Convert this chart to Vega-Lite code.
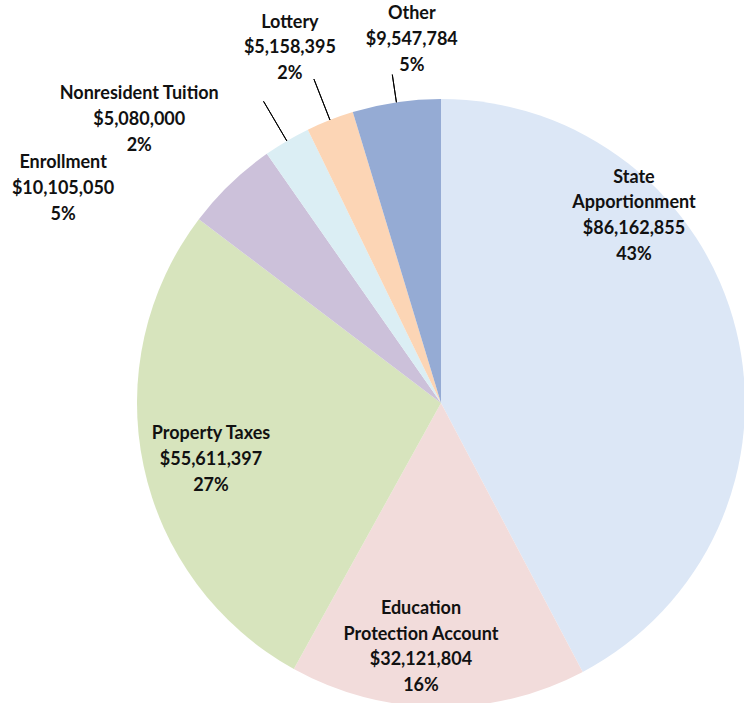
{
  "$schema": "https://vega.github.io/schema/vega-lite/v6.json",
  "width": 606,
  "height": 600,
  "autosize": {"type": "none"},
  "padding": {"left": 138, "top": 103, "right": 0, "bottom": 0},
  "background": "white",
  "view": {"stroke": null},
  "data": {
    "values": [
      {"idx": 1, "label": "State Apportionment", "amount": 86162855, "txt": "State\nApportionment\n$86,162,855\n43%"},
      {"idx": 2, "label": "Education Protection Account", "amount": 32121804, "txt": "Education\nProtection Account\n$32,121,804\n16%"},
      {"idx": 3, "label": "Property Taxes", "amount": 55611397, "txt": "Property Taxes\n$55,611,397\n27%"},
      {"idx": 4, "label": "Enrollment", "amount": 10105050, "txt": "Enrollment\n$10,105,050\n5%"},
      {"idx": 5, "label": "Nonresident Tuition", "amount": 5080000, "txt": "Nonresident Tuition\n$5,080,000\n2%"},
      {"idx": 6, "label": "Lottery", "amount": 5158395, "txt": "Lottery\n$5,158,395\n2%"},
      {"idx": 7, "label": "Other", "amount": 9547784, "txt": "Other\n$9,547,784\n5%"}
    ]
  },
  "encoding": {
    "theta": {"field": "amount", "type": "quantitative", "stack": true},
    "order": {"field": "idx", "type": "quantitative"}
  },
  "layer": [
    {
      "mark": {"type": "arc", "outerRadius": 304, "strokeWidth": 0},
      "encoding": {
        "color": {
          "field": "label",
          "type": "nominal",
          "scale": {
            "domain": ["State Apportionment", "Education Protection Account", "Property Taxes", "Enrollment", "Nonresident Tuition", "Lottery", "Other"],
            "range": ["#dce7f6", "#f2dcdb", "#d7e4bd", "#ccc1da", "#dbeef4", "#fcd5b5", "#95abd4"]
          },
          "legend": null
        }
      }
    },
    {
      "mark": {"type": "arc", "outerRadius": 332, "innerRadius": 304, "padAngle": 1.5, "fillOpacity": 0, "stroke": "#000000", "strokeWidth": 1},
      "encoding": {"strokeOpacity": {"condition": {"test": "datum.label === 'Other'", "value": 1}, "value": 0}}
    },
    {
      "mark": {"type": "arc", "outerRadius": 348, "innerRadius": 304, "padAngle": 1.5, "fillOpacity": 0, "stroke": "#000000", "strokeWidth": 1},
      "encoding": {"strokeOpacity": {"condition": {"test": "datum.label === 'Lottery'", "value": 1}, "value": 0}}
    },
    {
      "mark": {"type": "arc", "outerRadius": 350, "innerRadius": 304, "padAngle": 1.5, "fillOpacity": 0, "stroke": "#000000", "strokeWidth": 1},
      "encoding": {"strokeOpacity": {"condition": {"test": "datum.label === 'Nonresident Tuition'", "value": 1}, "value": 0}}
    },
    {
      "mark": {"type": "text", "radius": 250, "dx": -49.7, "dy": -165.4, "font": "Lato", "fontSize": 18, "fontWeight": "bold", "lineBreak": "\n", "lineHeight": 25.7, "align": "center", "baseline": "middle", "color": "#111111"},
      "encoding": {"text": {"condition": {"test": "datum.label === 'State Apportionment'", "field": "txt", "type": "nominal"}, "value": ""}}
    },
    {
      "mark": {"type": "text", "radius": 250, "dx": -17.5, "dy": -44, "font": "Lato", "fontSize": 18, "fontWeight": "bold", "lineBreak": "\n", "lineHeight": 25.7, "align": "center", "baseline": "middle", "color": "#111111"},
      "encoding": {"text": {"condition": {"test": "datum.label === 'Education Protection Account'", "field": "txt", "type": "nominal"}, "value": ""}}
    },
    {
      "mark": {"type": "text", "radius": 250, "dx": 14.6, "dy": -20.3, "font": "Lato", "fontSize": 18, "fontWeight": "bold", "lineBreak": "\n", "lineHeight": 25.7, "align": "center", "baseline": "middle", "color": "#111111"},
      "encoding": {"text": {"condition": {"test": "datum.label === 'Property Taxes'", "field": "txt", "type": "nominal"}, "value": ""}}
    },
    {
      "mark": {"type": "text", "radius": 250, "dx": -204.6, "dy": -59.5, "font": "Lato", "fontSize": 18, "fontWeight": "bold", "lineBreak": "\n", "lineHeight": 25.7, "align": "center", "baseline": "middle", "color": "#111111"},
      "encoding": {"text": {"condition": {"test": "datum.label === 'Enrollment'", "field": "txt", "type": "nominal"}, "value": ""}}
    },
    {
      "mark": {"type": "text", "radius": 250, "dx": -175, "dy": -93.3, "font": "Lato", "fontSize": 18, "fontWeight": "bold", "lineBreak": "\n", "lineHeight": 25.7, "align": "center", "baseline": "middle", "color": "#111111"},
      "encoding": {"text": {"condition": {"test": "datum.label === 'Nonresident Tuition'", "field": "txt", "type": "nominal"}, "value": ""}}
    },
    {
      "mark": {"type": "text", "radius": 250, "dx": -59.8, "dy": -147.7, "font": "Lato", "fontSize": 18, "fontWeight": "bold", "lineBreak": "\n", "lineHeight": 25.7, "align": "center", "baseline": "middle", "color": "#111111"},
      "encoding": {"text": {"condition": {"test": "datum.label === 'Lottery'", "field": "txt", "type": "nominal"}, "value": ""}}
    },
    {
      "mark": {"type": "text", "radius": 250, "dx": 7.5, "dy": -141.4, "font": "Lato", "fontSize": 18, "fontWeight": "bold", "lineBreak": "\n", "lineHeight": 25.7, "align": "center", "baseline": "middle", "color": "#111111"},
      "encoding": {"text": {"condition": {"test": "datum.label === 'Other'", "field": "txt", "type": "nominal"}, "value": ""}}
    }
  ]
}
